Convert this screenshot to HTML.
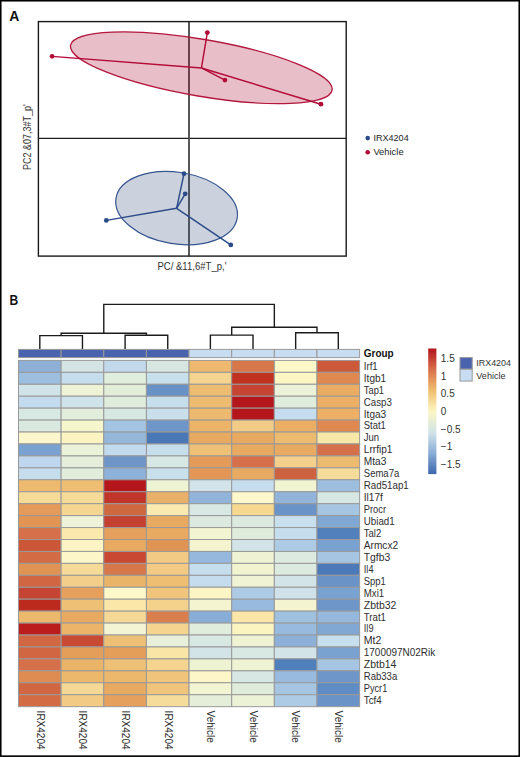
<!DOCTYPE html>
<html><head><meta charset="utf-8"><title>Figure</title>
<style>html,body{margin:0;padding:0;background:#fff;}body{width:520px;height:757px;overflow:hidden;}svg{display:block;font-family:"Liberation Sans",sans-serif;}</style>
</head><body>
<svg width="520" height="757" viewBox="0 0 520 757">
<rect x="0" y="0" width="520" height="757" fill="#fff"/>
<text x="9.3" y="20.6" font-size="14" font-weight="bold" fill="#111">A</text>
<line x1="38.4" y1="138.35" x2="346.2" y2="138.35" stroke="#1e1e1e" stroke-width="1.3"/>
<line x1="189.0" y1="21.6" x2="189.0" y2="256.1" stroke="#505050" stroke-width="1.9"/>
<ellipse cx="201.3" cy="67.75" rx="132.7" ry="28.4" transform="rotate(9.74 201.3 67.75)" fill="#a30023" fill-opacity="0.25" stroke="#b3173f" stroke-width="1.3"/>
<ellipse cx="176.6" cy="208.1" rx="61.4" ry="35.8" transform="rotate(9.35 176.6 208.1)" fill="#2f4b7b" fill-opacity="0.25" stroke="#36558f" stroke-width="1.2"/>
<line x1="201.45" y1="67.95" x2="52.1" y2="56.35" stroke="#b30a38" stroke-width="1.45"/>
<line x1="201.45" y1="67.95" x2="207.33" y2="32.6" stroke="#b30a38" stroke-width="1.45"/>
<line x1="201.45" y1="67.95" x2="224.95" y2="80.06" stroke="#b30a38" stroke-width="1.45"/>
<line x1="201.45" y1="67.95" x2="320.95" y2="104.2" stroke="#b30a38" stroke-width="1.45"/>
<circle cx="52.1" cy="56.35" r="2.4" fill="#b30a38"/>
<circle cx="207.33" cy="32.6" r="2.4" fill="#b30a38"/>
<circle cx="224.95" cy="80.06" r="2.4" fill="#b30a38"/>
<circle cx="320.95" cy="104.2" r="2.4" fill="#b30a38"/>
<line x1="176.6" y1="208.3" x2="184.0" y2="173.7" stroke="#2b4a88" stroke-width="1.45"/>
<line x1="176.6" y1="208.3" x2="185.2" y2="193.8" stroke="#2b4a88" stroke-width="1.45"/>
<line x1="176.6" y1="208.3" x2="106.3" y2="220.4" stroke="#2b4a88" stroke-width="1.45"/>
<line x1="176.6" y1="208.3" x2="230.8" y2="244.9" stroke="#2b4a88" stroke-width="1.45"/>
<circle cx="184.0" cy="173.7" r="2.4" fill="#2b4a88"/>
<circle cx="185.2" cy="193.8" r="2.4" fill="#2b4a88"/>
<circle cx="106.3" cy="220.4" r="2.4" fill="#2b4a88"/>
<circle cx="230.8" cy="244.9" r="2.4" fill="#2b4a88"/>
<rect x="38.4" y="21.6" width="307.8" height="234.5" fill="none" stroke="#1a1a1a" stroke-width="1.4"/>
<text x="157.4" y="269.7" font-size="10.7" fill="#333" textLength="69.1" lengthAdjust="spacingAndGlyphs">PC/ &amp;11,6#T_p,'</text>
<text transform="translate(30.9 170) rotate(-90)" x="0" y="0" font-size="10.7" fill="#333" textLength="65.8" lengthAdjust="spacingAndGlyphs">PC2 &amp;07,3#T_p'</text>
<circle cx="367.7" cy="138.1" r="2.3" fill="#2b4a88"/>
<circle cx="367.7" cy="152.2" r="2.3" fill="#b30a38"/>
<text x="373.4" y="140.8" font-size="9.4" fill="#262626" textLength="35.3" lengthAdjust="spacingAndGlyphs">IRX4204</text>
<text x="373.4" y="155.0" font-size="9.4" fill="#262626" textLength="30.2" lengthAdjust="spacingAndGlyphs">Vehicle</text>
<text x="9.4" y="304.6" font-size="14.5" font-weight="bold" fill="#111" textLength="8.7" lengthAdjust="spacingAndGlyphs">B</text>
<path d="M39.82 349.30 V335.60 H82.46 V349.30" fill="none" stroke="#1c1c1c" stroke-width="1.4"/>
<path d="M125.10 349.30 V335.30 H167.74 V349.30" fill="none" stroke="#1c1c1c" stroke-width="1.4"/>
<path d="M61.14 335.60 V333.30 H146.42 V335.30" fill="none" stroke="#1c1c1c" stroke-width="1.4"/>
<path d="M210.38 349.30 V335.10 H253.02 V349.30" fill="none" stroke="#1c1c1c" stroke-width="1.4"/>
<path d="M295.66 349.30 V332.80 H338.30 V349.30" fill="none" stroke="#1c1c1c" stroke-width="1.4"/>
<path d="M231.70 335.10 V327.20 H316.98 V332.80" fill="none" stroke="#1c1c1c" stroke-width="1.4"/>
<path d="M103.78 333.30 V304.40 H274.34 V327.20" fill="none" stroke="#1c1c1c" stroke-width="1.4"/>
<rect x="18.50" y="349.4" width="42.64" height="8.20" fill="#4a63ae" stroke="#999999" stroke-width="1.0"/>
<rect x="61.14" y="349.4" width="42.64" height="8.20" fill="#4a63ae" stroke="#999999" stroke-width="1.0"/>
<rect x="103.78" y="349.4" width="42.64" height="8.20" fill="#4a63ae" stroke="#999999" stroke-width="1.0"/>
<rect x="146.42" y="349.4" width="42.64" height="8.20" fill="#4a63ae" stroke="#999999" stroke-width="1.0"/>
<rect x="189.06" y="349.4" width="42.64" height="8.20" fill="#c8dcf2" stroke="#999999" stroke-width="1.0"/>
<rect x="231.70" y="349.4" width="42.64" height="8.20" fill="#c8dcf2" stroke="#999999" stroke-width="1.0"/>
<rect x="274.34" y="349.4" width="42.64" height="8.20" fill="#c8dcf2" stroke="#999999" stroke-width="1.0"/>
<rect x="316.98" y="349.4" width="42.64" height="8.20" fill="#c8dcf2" stroke="#999999" stroke-width="1.0"/>
<rect x="18.50" y="360.40" width="42.64" height="11.94" fill="#8fb0d6" stroke="#999999" stroke-width="1.0"/>
<rect x="61.14" y="360.40" width="42.64" height="11.94" fill="#d4e4e4" stroke="#999999" stroke-width="1.0"/>
<rect x="103.78" y="360.40" width="42.64" height="11.94" fill="#c2d9ec" stroke="#999999" stroke-width="1.0"/>
<rect x="146.42" y="360.40" width="42.64" height="11.94" fill="#d8e6e2" stroke="#999999" stroke-width="1.0"/>
<rect x="189.06" y="360.40" width="42.64" height="11.94" fill="#eeb86e" stroke="#999999" stroke-width="1.0"/>
<rect x="231.70" y="360.40" width="42.64" height="11.94" fill="#d8784a" stroke="#999999" stroke-width="1.0"/>
<rect x="274.34" y="360.40" width="42.64" height="11.94" fill="#fdf8c8" stroke="#999999" stroke-width="1.0"/>
<rect x="316.98" y="360.40" width="42.64" height="11.94" fill="#cc5a3a" stroke="#999999" stroke-width="1.0"/>
<rect x="18.50" y="372.34" width="42.64" height="11.94" fill="#9dbfdf" stroke="#999999" stroke-width="1.0"/>
<rect x="61.14" y="372.34" width="42.64" height="11.94" fill="#c5dded" stroke="#999999" stroke-width="1.0"/>
<rect x="103.78" y="372.34" width="42.64" height="11.94" fill="#e0eedd" stroke="#999999" stroke-width="1.0"/>
<rect x="146.42" y="372.34" width="42.64" height="11.94" fill="#c8e0ec" stroke="#999999" stroke-width="1.0"/>
<rect x="189.06" y="372.34" width="42.64" height="11.94" fill="#f5d490" stroke="#999999" stroke-width="1.0"/>
<rect x="231.70" y="372.34" width="42.64" height="11.94" fill="#c0321f" stroke="#999999" stroke-width="1.0"/>
<rect x="274.34" y="372.34" width="42.64" height="11.94" fill="#fcf6c4" stroke="#999999" stroke-width="1.0"/>
<rect x="316.98" y="372.34" width="42.64" height="11.94" fill="#df8850" stroke="#999999" stroke-width="1.0"/>
<rect x="18.50" y="384.28" width="42.64" height="11.94" fill="#cfe3e9" stroke="#999999" stroke-width="1.0"/>
<rect x="61.14" y="384.28" width="42.64" height="11.94" fill="#eef3d5" stroke="#999999" stroke-width="1.0"/>
<rect x="103.78" y="384.28" width="42.64" height="11.94" fill="#e3eed9" stroke="#999999" stroke-width="1.0"/>
<rect x="146.42" y="384.28" width="42.64" height="11.94" fill="#6892c6" stroke="#999999" stroke-width="1.0"/>
<rect x="189.06" y="384.28" width="42.64" height="11.94" fill="#eebc70" stroke="#999999" stroke-width="1.0"/>
<rect x="231.70" y="384.28" width="42.64" height="11.94" fill="#c54432" stroke="#999999" stroke-width="1.0"/>
<rect x="274.34" y="384.28" width="42.64" height="11.94" fill="#ecf2d8" stroke="#999999" stroke-width="1.0"/>
<rect x="316.98" y="384.28" width="42.64" height="11.94" fill="#e9ac62" stroke="#999999" stroke-width="1.0"/>
<rect x="18.50" y="396.22" width="42.64" height="11.94" fill="#c2dbee" stroke="#999999" stroke-width="1.0"/>
<rect x="61.14" y="396.22" width="42.64" height="11.94" fill="#cfe3ea" stroke="#999999" stroke-width="1.0"/>
<rect x="103.78" y="396.22" width="42.64" height="11.94" fill="#e0ecdc" stroke="#999999" stroke-width="1.0"/>
<rect x="146.42" y="396.22" width="42.64" height="11.94" fill="#c6ddec" stroke="#999999" stroke-width="1.0"/>
<rect x="189.06" y="396.22" width="42.64" height="11.94" fill="#eebc70" stroke="#999999" stroke-width="1.0"/>
<rect x="231.70" y="396.22" width="42.64" height="11.94" fill="#b5161c" stroke="#999999" stroke-width="1.0"/>
<rect x="274.34" y="396.22" width="42.64" height="11.94" fill="#dfeedc" stroke="#999999" stroke-width="1.0"/>
<rect x="316.98" y="396.22" width="42.64" height="11.94" fill="#ebaf65" stroke="#999999" stroke-width="1.0"/>
<rect x="18.50" y="408.16" width="42.64" height="11.94" fill="#d8e8e2" stroke="#999999" stroke-width="1.0"/>
<rect x="61.14" y="408.16" width="42.64" height="11.94" fill="#e2eedb" stroke="#999999" stroke-width="1.0"/>
<rect x="103.78" y="408.16" width="42.64" height="11.94" fill="#d7e8e2" stroke="#999999" stroke-width="1.0"/>
<rect x="146.42" y="408.16" width="42.64" height="11.94" fill="#c9e0ec" stroke="#999999" stroke-width="1.0"/>
<rect x="189.06" y="408.16" width="42.64" height="11.94" fill="#edb96e" stroke="#999999" stroke-width="1.0"/>
<rect x="231.70" y="408.16" width="42.64" height="11.94" fill="#b5161c" stroke="#999999" stroke-width="1.0"/>
<rect x="274.34" y="408.16" width="42.64" height="11.94" fill="#c3dcee" stroke="#999999" stroke-width="1.0"/>
<rect x="316.98" y="408.16" width="42.64" height="11.94" fill="#ebaf65" stroke="#999999" stroke-width="1.0"/>
<rect x="18.50" y="420.10" width="42.64" height="11.94" fill="#dae9e0" stroke="#999999" stroke-width="1.0"/>
<rect x="61.14" y="420.10" width="42.64" height="11.94" fill="#f6f6cc" stroke="#999999" stroke-width="1.0"/>
<rect x="103.78" y="420.10" width="42.64" height="11.94" fill="#a3c4e2" stroke="#999999" stroke-width="1.0"/>
<rect x="146.42" y="420.10" width="42.64" height="11.94" fill="#6e96c8" stroke="#999999" stroke-width="1.0"/>
<rect x="189.06" y="420.10" width="42.64" height="11.94" fill="#ebb468" stroke="#999999" stroke-width="1.0"/>
<rect x="231.70" y="420.10" width="42.64" height="11.94" fill="#f2cc86" stroke="#999999" stroke-width="1.0"/>
<rect x="274.34" y="420.10" width="42.64" height="11.94" fill="#eaaf64" stroke="#999999" stroke-width="1.0"/>
<rect x="316.98" y="420.10" width="42.64" height="11.94" fill="#df8850" stroke="#999999" stroke-width="1.0"/>
<rect x="18.50" y="432.04" width="42.64" height="11.94" fill="#fcf6cc" stroke="#999999" stroke-width="1.0"/>
<rect x="61.14" y="432.04" width="42.64" height="11.94" fill="#fcf4c0" stroke="#999999" stroke-width="1.0"/>
<rect x="103.78" y="432.04" width="42.64" height="11.94" fill="#95b7da" stroke="#999999" stroke-width="1.0"/>
<rect x="146.42" y="432.04" width="42.64" height="11.94" fill="#4a77b5" stroke="#999999" stroke-width="1.0"/>
<rect x="189.06" y="432.04" width="42.64" height="11.94" fill="#e8aa60" stroke="#999999" stroke-width="1.0"/>
<rect x="231.70" y="432.04" width="42.64" height="11.94" fill="#e8aa60" stroke="#999999" stroke-width="1.0"/>
<rect x="274.34" y="432.04" width="42.64" height="11.94" fill="#ecbb6f" stroke="#999999" stroke-width="1.0"/>
<rect x="316.98" y="432.04" width="42.64" height="11.94" fill="#f8e8a8" stroke="#999999" stroke-width="1.0"/>
<rect x="18.50" y="443.98" width="42.64" height="11.94" fill="#7aa2d0" stroke="#999999" stroke-width="1.0"/>
<rect x="61.14" y="443.98" width="42.64" height="11.94" fill="#eaf2d8" stroke="#999999" stroke-width="1.0"/>
<rect x="103.78" y="443.98" width="42.64" height="11.94" fill="#c2daee" stroke="#999999" stroke-width="1.0"/>
<rect x="146.42" y="443.98" width="42.64" height="11.94" fill="#c6ddec" stroke="#999999" stroke-width="1.0"/>
<rect x="189.06" y="443.98" width="42.64" height="11.94" fill="#eec176" stroke="#999999" stroke-width="1.0"/>
<rect x="231.70" y="443.98" width="42.64" height="11.94" fill="#e8aa60" stroke="#999999" stroke-width="1.0"/>
<rect x="274.34" y="443.98" width="42.64" height="11.94" fill="#e8aa60" stroke="#999999" stroke-width="1.0"/>
<rect x="316.98" y="443.98" width="42.64" height="11.94" fill="#d5704a" stroke="#999999" stroke-width="1.0"/>
<rect x="18.50" y="455.92" width="42.64" height="11.94" fill="#bed6ee" stroke="#999999" stroke-width="1.0"/>
<rect x="61.14" y="455.92" width="42.64" height="11.94" fill="#e4eedb" stroke="#999999" stroke-width="1.0"/>
<rect x="103.78" y="455.92" width="42.64" height="11.94" fill="#6d95c8" stroke="#999999" stroke-width="1.0"/>
<rect x="146.42" y="455.92" width="42.64" height="11.94" fill="#d6e7e4" stroke="#999999" stroke-width="1.0"/>
<rect x="189.06" y="455.92" width="42.64" height="11.94" fill="#e49a58" stroke="#999999" stroke-width="1.0"/>
<rect x="231.70" y="455.92" width="42.64" height="11.94" fill="#d5704a" stroke="#999999" stroke-width="1.0"/>
<rect x="274.34" y="455.92" width="42.64" height="11.94" fill="#f4d08c" stroke="#999999" stroke-width="1.0"/>
<rect x="316.98" y="455.92" width="42.64" height="11.94" fill="#ecbb6f" stroke="#999999" stroke-width="1.0"/>
<rect x="18.50" y="467.86" width="42.64" height="11.94" fill="#c5dded" stroke="#999999" stroke-width="1.0"/>
<rect x="61.14" y="467.86" width="42.64" height="11.94" fill="#e1edda" stroke="#999999" stroke-width="1.0"/>
<rect x="103.78" y="467.86" width="42.64" height="11.94" fill="#8db1d8" stroke="#999999" stroke-width="1.0"/>
<rect x="146.42" y="467.86" width="42.64" height="11.94" fill="#c8e0ec" stroke="#999999" stroke-width="1.0"/>
<rect x="189.06" y="467.86" width="42.64" height="11.94" fill="#e49656" stroke="#999999" stroke-width="1.0"/>
<rect x="231.70" y="467.86" width="42.64" height="11.94" fill="#e8aa60" stroke="#999999" stroke-width="1.0"/>
<rect x="274.34" y="467.86" width="42.64" height="11.94" fill="#cc6240" stroke="#999999" stroke-width="1.0"/>
<rect x="316.98" y="467.86" width="42.64" height="11.94" fill="#f6dc9a" stroke="#999999" stroke-width="1.0"/>
<rect x="18.50" y="479.80" width="42.64" height="11.94" fill="#edba6e" stroke="#999999" stroke-width="1.0"/>
<rect x="61.14" y="479.80" width="42.64" height="11.94" fill="#eebe72" stroke="#999999" stroke-width="1.0"/>
<rect x="103.78" y="479.80" width="42.64" height="11.94" fill="#b5161c" stroke="#999999" stroke-width="1.0"/>
<rect x="146.42" y="479.80" width="42.64" height="11.94" fill="#eef3d4" stroke="#999999" stroke-width="1.0"/>
<rect x="189.06" y="479.80" width="42.64" height="11.94" fill="#d2e4ea" stroke="#999999" stroke-width="1.0"/>
<rect x="231.70" y="479.80" width="42.64" height="11.94" fill="#c6ddee" stroke="#999999" stroke-width="1.0"/>
<rect x="274.34" y="479.80" width="42.64" height="11.94" fill="#f0f4d0" stroke="#999999" stroke-width="1.0"/>
<rect x="316.98" y="479.80" width="42.64" height="11.94" fill="#9dbedf" stroke="#999999" stroke-width="1.0"/>
<rect x="18.50" y="491.74" width="42.64" height="11.94" fill="#f6da98" stroke="#999999" stroke-width="1.0"/>
<rect x="61.14" y="491.74" width="42.64" height="11.94" fill="#f6da98" stroke="#999999" stroke-width="1.0"/>
<rect x="103.78" y="491.74" width="42.64" height="11.94" fill="#c03528" stroke="#999999" stroke-width="1.0"/>
<rect x="146.42" y="491.74" width="42.64" height="11.94" fill="#e8b068" stroke="#999999" stroke-width="1.0"/>
<rect x="189.06" y="491.74" width="42.64" height="11.94" fill="#92b4da" stroke="#999999" stroke-width="1.0"/>
<rect x="231.70" y="491.74" width="42.64" height="11.94" fill="#fdf8cc" stroke="#999999" stroke-width="1.0"/>
<rect x="274.34" y="491.74" width="42.64" height="11.94" fill="#92b4da" stroke="#999999" stroke-width="1.0"/>
<rect x="316.98" y="491.74" width="42.64" height="11.94" fill="#d6e7e4" stroke="#999999" stroke-width="1.0"/>
<rect x="18.50" y="503.68" width="42.64" height="11.94" fill="#e49a58" stroke="#999999" stroke-width="1.0"/>
<rect x="61.14" y="503.68" width="42.64" height="11.94" fill="#f5d690" stroke="#999999" stroke-width="1.0"/>
<rect x="103.78" y="503.68" width="42.64" height="11.94" fill="#d0683f" stroke="#999999" stroke-width="1.0"/>
<rect x="146.42" y="503.68" width="42.64" height="11.94" fill="#fbeab0" stroke="#999999" stroke-width="1.0"/>
<rect x="189.06" y="503.68" width="42.64" height="11.94" fill="#d8e8e2" stroke="#999999" stroke-width="1.0"/>
<rect x="231.70" y="503.68" width="42.64" height="11.94" fill="#f6d890" stroke="#999999" stroke-width="1.0"/>
<rect x="274.34" y="503.68" width="42.64" height="11.94" fill="#6a93c8" stroke="#999999" stroke-width="1.0"/>
<rect x="316.98" y="503.68" width="42.64" height="11.94" fill="#a5c5e2" stroke="#999999" stroke-width="1.0"/>
<rect x="18.50" y="515.62" width="42.64" height="11.94" fill="#e29454" stroke="#999999" stroke-width="1.0"/>
<rect x="61.14" y="515.62" width="42.64" height="11.94" fill="#eef2d8" stroke="#999999" stroke-width="1.0"/>
<rect x="103.78" y="515.62" width="42.64" height="11.94" fill="#c44030" stroke="#999999" stroke-width="1.0"/>
<rect x="146.42" y="515.62" width="42.64" height="11.94" fill="#e8aa60" stroke="#999999" stroke-width="1.0"/>
<rect x="189.06" y="515.62" width="42.64" height="11.94" fill="#dbe9df" stroke="#999999" stroke-width="1.0"/>
<rect x="231.70" y="515.62" width="42.64" height="11.94" fill="#dbe9df" stroke="#999999" stroke-width="1.0"/>
<rect x="274.34" y="515.62" width="42.64" height="11.94" fill="#c8dfee" stroke="#999999" stroke-width="1.0"/>
<rect x="316.98" y="515.62" width="42.64" height="11.94" fill="#80a8d2" stroke="#999999" stroke-width="1.0"/>
<rect x="18.50" y="527.56" width="42.64" height="11.94" fill="#d5704a" stroke="#999999" stroke-width="1.0"/>
<rect x="61.14" y="527.56" width="42.64" height="11.94" fill="#fbe8ac" stroke="#999999" stroke-width="1.0"/>
<rect x="103.78" y="527.56" width="42.64" height="11.94" fill="#e4a05c" stroke="#999999" stroke-width="1.0"/>
<rect x="146.42" y="527.56" width="42.64" height="11.94" fill="#e8aa60" stroke="#999999" stroke-width="1.0"/>
<rect x="189.06" y="527.56" width="42.64" height="11.94" fill="#f2f4d2" stroke="#999999" stroke-width="1.0"/>
<rect x="231.70" y="527.56" width="42.64" height="11.94" fill="#dfecdc" stroke="#999999" stroke-width="1.0"/>
<rect x="274.34" y="527.56" width="42.64" height="11.94" fill="#c6ddee" stroke="#999999" stroke-width="1.0"/>
<rect x="316.98" y="527.56" width="42.64" height="11.94" fill="#5180bc" stroke="#999999" stroke-width="1.0"/>
<rect x="18.50" y="539.50" width="42.64" height="11.94" fill="#cc5638" stroke="#999999" stroke-width="1.0"/>
<rect x="61.14" y="539.50" width="42.64" height="11.94" fill="#fcf4c4" stroke="#999999" stroke-width="1.0"/>
<rect x="103.78" y="539.50" width="42.64" height="11.94" fill="#e8aa60" stroke="#999999" stroke-width="1.0"/>
<rect x="146.42" y="539.50" width="42.64" height="11.94" fill="#e09454" stroke="#999999" stroke-width="1.0"/>
<rect x="189.06" y="539.50" width="42.64" height="11.94" fill="#f4f5d0" stroke="#999999" stroke-width="1.0"/>
<rect x="231.70" y="539.50" width="42.64" height="11.94" fill="#d2e4e8" stroke="#999999" stroke-width="1.0"/>
<rect x="274.34" y="539.50" width="42.64" height="11.94" fill="#aecbe6" stroke="#999999" stroke-width="1.0"/>
<rect x="316.98" y="539.50" width="42.64" height="11.94" fill="#7aa2d0" stroke="#999999" stroke-width="1.0"/>
<rect x="18.50" y="551.44" width="42.64" height="11.94" fill="#d36c45" stroke="#999999" stroke-width="1.0"/>
<rect x="61.14" y="551.44" width="42.64" height="11.94" fill="#fdf6c8" stroke="#999999" stroke-width="1.0"/>
<rect x="103.78" y="551.44" width="42.64" height="11.94" fill="#c84832" stroke="#999999" stroke-width="1.0"/>
<rect x="146.42" y="551.44" width="42.64" height="11.94" fill="#f3ca84" stroke="#999999" stroke-width="1.0"/>
<rect x="189.06" y="551.44" width="42.64" height="11.94" fill="#95b8dc" stroke="#999999" stroke-width="1.0"/>
<rect x="231.70" y="551.44" width="42.64" height="11.94" fill="#eff3d4" stroke="#999999" stroke-width="1.0"/>
<rect x="274.34" y="551.44" width="42.64" height="11.94" fill="#dceadf" stroke="#999999" stroke-width="1.0"/>
<rect x="316.98" y="551.44" width="42.64" height="11.94" fill="#a5c5e2" stroke="#999999" stroke-width="1.0"/>
<rect x="18.50" y="563.38" width="42.64" height="11.94" fill="#e09454" stroke="#999999" stroke-width="1.0"/>
<rect x="61.14" y="563.38" width="42.64" height="11.94" fill="#f6da98" stroke="#999999" stroke-width="1.0"/>
<rect x="103.78" y="563.38" width="42.64" height="11.94" fill="#d6784a" stroke="#999999" stroke-width="1.0"/>
<rect x="146.42" y="563.38" width="42.64" height="11.94" fill="#f3ca84" stroke="#999999" stroke-width="1.0"/>
<rect x="189.06" y="563.38" width="42.64" height="11.94" fill="#c6ddee" stroke="#999999" stroke-width="1.0"/>
<rect x="231.70" y="563.38" width="42.64" height="11.94" fill="#f2f4d0" stroke="#999999" stroke-width="1.0"/>
<rect x="274.34" y="563.38" width="42.64" height="11.94" fill="#dceadf" stroke="#999999" stroke-width="1.0"/>
<rect x="316.98" y="563.38" width="42.64" height="11.94" fill="#4c7ab8" stroke="#999999" stroke-width="1.0"/>
<rect x="18.50" y="575.32" width="42.64" height="11.94" fill="#d06642" stroke="#999999" stroke-width="1.0"/>
<rect x="61.14" y="575.32" width="42.64" height="11.94" fill="#f3ce8a" stroke="#999999" stroke-width="1.0"/>
<rect x="103.78" y="575.32" width="42.64" height="11.94" fill="#eab468" stroke="#999999" stroke-width="1.0"/>
<rect x="146.42" y="575.32" width="42.64" height="11.94" fill="#eebe72" stroke="#999999" stroke-width="1.0"/>
<rect x="189.06" y="575.32" width="42.64" height="11.94" fill="#c4dcee" stroke="#999999" stroke-width="1.0"/>
<rect x="231.70" y="575.32" width="42.64" height="11.94" fill="#f0f4d4" stroke="#999999" stroke-width="1.0"/>
<rect x="274.34" y="575.32" width="42.64" height="11.94" fill="#d2e4e8" stroke="#999999" stroke-width="1.0"/>
<rect x="316.98" y="575.32" width="42.64" height="11.94" fill="#6a93c8" stroke="#999999" stroke-width="1.0"/>
<rect x="18.50" y="587.26" width="42.64" height="11.94" fill="#c64434" stroke="#999999" stroke-width="1.0"/>
<rect x="61.14" y="587.26" width="42.64" height="11.94" fill="#e4a05c" stroke="#999999" stroke-width="1.0"/>
<rect x="103.78" y="587.26" width="42.64" height="11.94" fill="#fdf8ca" stroke="#999999" stroke-width="1.0"/>
<rect x="146.42" y="587.26" width="42.64" height="11.94" fill="#f0c47a" stroke="#999999" stroke-width="1.0"/>
<rect x="189.06" y="587.26" width="42.64" height="11.94" fill="#fdf6c4" stroke="#999999" stroke-width="1.0"/>
<rect x="231.70" y="587.26" width="42.64" height="11.94" fill="#aecbe6" stroke="#999999" stroke-width="1.0"/>
<rect x="274.34" y="587.26" width="42.64" height="11.94" fill="#cfe2ea" stroke="#999999" stroke-width="1.0"/>
<rect x="316.98" y="587.26" width="42.64" height="11.94" fill="#7aa2d0" stroke="#999999" stroke-width="1.0"/>
<rect x="18.50" y="599.20" width="42.64" height="11.94" fill="#bb2a1c" stroke="#999999" stroke-width="1.0"/>
<rect x="61.14" y="599.20" width="42.64" height="11.94" fill="#eec076" stroke="#999999" stroke-width="1.0"/>
<rect x="103.78" y="599.20" width="42.64" height="11.94" fill="#fbe8a8" stroke="#999999" stroke-width="1.0"/>
<rect x="146.42" y="599.20" width="42.64" height="11.94" fill="#f5d28c" stroke="#999999" stroke-width="1.0"/>
<rect x="189.06" y="599.20" width="42.64" height="11.94" fill="#f4f5d0" stroke="#999999" stroke-width="1.0"/>
<rect x="231.70" y="599.20" width="42.64" height="11.94" fill="#98bade" stroke="#999999" stroke-width="1.0"/>
<rect x="274.34" y="599.20" width="42.64" height="11.94" fill="#f4f5d0" stroke="#999999" stroke-width="1.0"/>
<rect x="316.98" y="599.20" width="42.64" height="11.94" fill="#6e96c8" stroke="#999999" stroke-width="1.0"/>
<rect x="18.50" y="611.14" width="42.64" height="11.94" fill="#ecb86c" stroke="#999999" stroke-width="1.0"/>
<rect x="61.14" y="611.14" width="42.64" height="11.94" fill="#e8aa60" stroke="#999999" stroke-width="1.0"/>
<rect x="103.78" y="611.14" width="42.64" height="11.94" fill="#f6d896" stroke="#999999" stroke-width="1.0"/>
<rect x="146.42" y="611.14" width="42.64" height="11.94" fill="#da7e4e" stroke="#999999" stroke-width="1.0"/>
<rect x="189.06" y="611.14" width="42.64" height="11.94" fill="#88aed8" stroke="#999999" stroke-width="1.0"/>
<rect x="231.70" y="611.14" width="42.64" height="11.94" fill="#fbe6a8" stroke="#999999" stroke-width="1.0"/>
<rect x="274.34" y="611.14" width="42.64" height="11.94" fill="#a0c0e0" stroke="#999999" stroke-width="1.0"/>
<rect x="316.98" y="611.14" width="42.64" height="11.94" fill="#95b8dc" stroke="#999999" stroke-width="1.0"/>
<rect x="18.50" y="623.08" width="42.64" height="11.94" fill="#bb1c1c" stroke="#999999" stroke-width="1.0"/>
<rect x="61.14" y="623.08" width="42.64" height="11.94" fill="#ecb468" stroke="#999999" stroke-width="1.0"/>
<rect x="103.78" y="623.08" width="42.64" height="11.94" fill="#f2f4d4" stroke="#999999" stroke-width="1.0"/>
<rect x="146.42" y="623.08" width="42.64" height="11.94" fill="#f5d490" stroke="#999999" stroke-width="1.0"/>
<rect x="189.06" y="623.08" width="42.64" height="11.94" fill="#e0ecdc" stroke="#999999" stroke-width="1.0"/>
<rect x="231.70" y="623.08" width="42.64" height="11.94" fill="#fcf4c0" stroke="#999999" stroke-width="1.0"/>
<rect x="274.34" y="623.08" width="42.64" height="11.94" fill="#98bade" stroke="#999999" stroke-width="1.0"/>
<rect x="316.98" y="623.08" width="42.64" height="11.94" fill="#80a8d2" stroke="#999999" stroke-width="1.0"/>
<rect x="18.50" y="635.02" width="42.64" height="11.94" fill="#d06642" stroke="#999999" stroke-width="1.0"/>
<rect x="61.14" y="635.02" width="42.64" height="11.94" fill="#c84a34" stroke="#999999" stroke-width="1.0"/>
<rect x="103.78" y="635.02" width="42.64" height="11.94" fill="#eec076" stroke="#999999" stroke-width="1.0"/>
<rect x="146.42" y="635.02" width="42.64" height="11.94" fill="#e8f0da" stroke="#999999" stroke-width="1.0"/>
<rect x="189.06" y="635.02" width="42.64" height="11.94" fill="#d8e8e2" stroke="#999999" stroke-width="1.0"/>
<rect x="231.70" y="635.02" width="42.64" height="11.94" fill="#eff3d4" stroke="#999999" stroke-width="1.0"/>
<rect x="274.34" y="635.02" width="42.64" height="11.94" fill="#8cb0d8" stroke="#999999" stroke-width="1.0"/>
<rect x="316.98" y="635.02" width="42.64" height="11.94" fill="#c8dfee" stroke="#999999" stroke-width="1.0"/>
<rect x="18.50" y="646.96" width="42.64" height="11.94" fill="#d06642" stroke="#999999" stroke-width="1.0"/>
<rect x="61.14" y="646.96" width="42.64" height="11.94" fill="#e49e5a" stroke="#999999" stroke-width="1.0"/>
<rect x="103.78" y="646.96" width="42.64" height="11.94" fill="#e49e5a" stroke="#999999" stroke-width="1.0"/>
<rect x="146.42" y="646.96" width="42.64" height="11.94" fill="#f9e6a6" stroke="#999999" stroke-width="1.0"/>
<rect x="189.06" y="646.96" width="42.64" height="11.94" fill="#d2e4e8" stroke="#999999" stroke-width="1.0"/>
<rect x="231.70" y="646.96" width="42.64" height="11.94" fill="#d8e8e2" stroke="#999999" stroke-width="1.0"/>
<rect x="274.34" y="646.96" width="42.64" height="11.94" fill="#d2e4e8" stroke="#999999" stroke-width="1.0"/>
<rect x="316.98" y="646.96" width="42.64" height="11.94" fill="#7aa2d0" stroke="#999999" stroke-width="1.0"/>
<rect x="18.50" y="658.90" width="42.64" height="11.94" fill="#d5704a" stroke="#999999" stroke-width="1.0"/>
<rect x="61.14" y="658.90" width="42.64" height="11.94" fill="#eab468" stroke="#999999" stroke-width="1.0"/>
<rect x="103.78" y="658.90" width="42.64" height="11.94" fill="#eec076" stroke="#999999" stroke-width="1.0"/>
<rect x="146.42" y="658.90" width="42.64" height="11.94" fill="#f5d490" stroke="#999999" stroke-width="1.0"/>
<rect x="189.06" y="658.90" width="42.64" height="11.94" fill="#eef3d4" stroke="#999999" stroke-width="1.0"/>
<rect x="231.70" y="658.90" width="42.64" height="11.94" fill="#eef3d4" stroke="#999999" stroke-width="1.0"/>
<rect x="274.34" y="658.90" width="42.64" height="11.94" fill="#5080bc" stroke="#999999" stroke-width="1.0"/>
<rect x="316.98" y="658.90" width="42.64" height="11.94" fill="#a5c5e2" stroke="#999999" stroke-width="1.0"/>
<rect x="18.50" y="670.84" width="42.64" height="11.94" fill="#df8c52" stroke="#999999" stroke-width="1.0"/>
<rect x="61.14" y="670.84" width="42.64" height="11.94" fill="#ecb86c" stroke="#999999" stroke-width="1.0"/>
<rect x="103.78" y="670.84" width="42.64" height="11.94" fill="#ecb86c" stroke="#999999" stroke-width="1.0"/>
<rect x="146.42" y="670.84" width="42.64" height="11.94" fill="#f0c47a" stroke="#999999" stroke-width="1.0"/>
<rect x="189.06" y="670.84" width="42.64" height="11.94" fill="#fcf6c8" stroke="#999999" stroke-width="1.0"/>
<rect x="231.70" y="670.84" width="42.64" height="11.94" fill="#d6e7e4" stroke="#999999" stroke-width="1.0"/>
<rect x="274.34" y="670.84" width="42.64" height="11.94" fill="#98bade" stroke="#999999" stroke-width="1.0"/>
<rect x="316.98" y="670.84" width="42.64" height="11.94" fill="#6e96c8" stroke="#999999" stroke-width="1.0"/>
<rect x="18.50" y="682.78" width="42.64" height="11.94" fill="#d06642" stroke="#999999" stroke-width="1.0"/>
<rect x="61.14" y="682.78" width="42.64" height="11.94" fill="#f6d896" stroke="#999999" stroke-width="1.0"/>
<rect x="103.78" y="682.78" width="42.64" height="11.94" fill="#e8aa60" stroke="#999999" stroke-width="1.0"/>
<rect x="146.42" y="682.78" width="42.64" height="11.94" fill="#f0c47a" stroke="#999999" stroke-width="1.0"/>
<rect x="189.06" y="682.78" width="42.64" height="11.94" fill="#f2f4d2" stroke="#999999" stroke-width="1.0"/>
<rect x="231.70" y="682.78" width="42.64" height="11.94" fill="#dfecdc" stroke="#999999" stroke-width="1.0"/>
<rect x="274.34" y="682.78" width="42.64" height="11.94" fill="#a5c5e2" stroke="#999999" stroke-width="1.0"/>
<rect x="316.98" y="682.78" width="42.64" height="11.94" fill="#5f8cc4" stroke="#999999" stroke-width="1.0"/>
<rect x="18.50" y="694.72" width="42.64" height="11.94" fill="#d36c45" stroke="#999999" stroke-width="1.0"/>
<rect x="61.14" y="694.72" width="42.64" height="11.94" fill="#f2ca84" stroke="#999999" stroke-width="1.0"/>
<rect x="103.78" y="694.72" width="42.64" height="11.94" fill="#e4a05c" stroke="#999999" stroke-width="1.0"/>
<rect x="146.42" y="694.72" width="42.64" height="11.94" fill="#f6dc9a" stroke="#999999" stroke-width="1.0"/>
<rect x="189.06" y="694.72" width="42.64" height="11.94" fill="#e4eed8" stroke="#999999" stroke-width="1.0"/>
<rect x="231.70" y="694.72" width="42.64" height="11.94" fill="#ecf2d6" stroke="#999999" stroke-width="1.0"/>
<rect x="274.34" y="694.72" width="42.64" height="11.94" fill="#aecbe6" stroke="#999999" stroke-width="1.0"/>
<rect x="316.98" y="694.72" width="42.64" height="11.94" fill="#6a93c8" stroke="#999999" stroke-width="1.0"/>
<text x="363.8" y="356.5" font-size="10" font-weight="bold" fill="#111" textLength="29.8" lengthAdjust="spacingAndGlyphs">Group</text>
<text transform="translate(363.8 369.77) scale(0.962 1)" x="0" y="0" font-size="10" fill="#2e2e2e">Irf1</text>
<text transform="translate(363.8 381.71) scale(1.009 1)" x="0" y="0" font-size="10" fill="#2e2e2e">Itgb1</text>
<text transform="translate(363.8 393.65) scale(0.936 1)" x="0" y="0" font-size="10" fill="#2e2e2e">Tap1</text>
<text transform="translate(363.8 405.59) scale(0.973 1)" x="0" y="0" font-size="10" fill="#2e2e2e">Casp3</text>
<text transform="translate(363.8 417.53) scale(1.009 1)" x="0" y="0" font-size="10" fill="#2e2e2e">Itga3</text>
<text transform="translate(363.8 429.47) scale(0.946 1)" x="0" y="0" font-size="10" fill="#2e2e2e">Stat1</text>
<text transform="translate(363.8 441.41) scale(0.955 1)" x="0" y="0" font-size="10" fill="#2e2e2e">Jun</text>
<text transform="translate(363.8 453.35) scale(1.01 1)" x="0" y="0" font-size="10" fill="#2e2e2e">Lrrfip1</text>
<text transform="translate(363.8 465.29) scale(1.018 1)" x="0" y="0" font-size="10" fill="#2e2e2e">Mta3</text>
<text transform="translate(363.8 477.23) scale(0.952 1)" x="0" y="0" font-size="10" fill="#2e2e2e">Sema7a</text>
<text transform="translate(363.8 489.17) scale(0.975 1)" x="0" y="0" font-size="10" fill="#2e2e2e">Rad51ap1</text>
<text transform="translate(363.8 501.11) scale(1.013 1)" x="0" y="0" font-size="10" fill="#2e2e2e">Il17f</text>
<text transform="translate(363.8 513.05) scale(0.93 1)" x="0" y="0" font-size="10" fill="#2e2e2e">Procr</text>
<text transform="translate(363.8 524.99) scale(0.974 1)" x="0" y="0" font-size="10" fill="#2e2e2e">Ubiad1</text>
<text transform="translate(363.8 536.93) scale(0.955 1)" x="0" y="0" font-size="10" fill="#2e2e2e">Tal2</text>
<text transform="translate(363.8 548.87) scale(1.014 1)" x="0" y="0" font-size="10" fill="#2e2e2e">Armcx2</text>
<text transform="translate(363.8 560.81) scale(1.034 1)" x="0" y="0" font-size="10" fill="#2e2e2e">Tgfb3</text>
<text transform="translate(363.8 572.75) scale(0.92 1)" x="0" y="0" font-size="10" fill="#2e2e2e">Il4</text>
<text transform="translate(363.8 584.69) scale(0.946 1)" x="0" y="0" font-size="10" fill="#2e2e2e">Spp1</text>
<text transform="translate(363.8 596.63) scale(0.964 1)" x="0" y="0" font-size="10" fill="#2e2e2e">Mxi1</text>
<text transform="translate(363.8 608.57) scale(1.047 1)" x="0" y="0" font-size="10" fill="#2e2e2e">Zbtb32</text>
<text transform="translate(363.8 620.51) scale(0.964 1)" x="0" y="0" font-size="10" fill="#2e2e2e">Trat1</text>
<text transform="translate(363.8 632.45) scale(0.92 1)" x="0" y="0" font-size="10" fill="#2e2e2e">Il9</text>
<text transform="translate(363.8 644.39) scale(1.06 1)" x="0" y="0" font-size="10" fill="#2e2e2e">Mt2</text>
<text transform="translate(363.8 656.33) scale(0.996 1)" x="0" y="0" font-size="10" fill="#2e2e2e">1700097N02Rik</text>
<text transform="translate(363.8 668.27) scale(1.047 1)" x="0" y="0" font-size="10" fill="#2e2e2e">Zbtb14</text>
<text transform="translate(363.8 680.21) scale(0.955 1)" x="0" y="0" font-size="10" fill="#2e2e2e">Rab33a</text>
<text transform="translate(363.8 692.15) scale(0.92 1)" x="0" y="0" font-size="10" fill="#2e2e2e">Pycr1</text>
<text transform="translate(363.8 704.09) scale(0.972 1)" x="0" y="0" font-size="10" fill="#2e2e2e">Tcf4</text>
<text transform="translate(36.62 710.6) rotate(90)" x="0" y="0" font-size="10" fill="#2a2a2a">IRX4204</text>
<text transform="translate(79.26 710.6) rotate(90)" x="0" y="0" font-size="10" fill="#2a2a2a">IRX4204</text>
<text transform="translate(121.90 710.6) rotate(90)" x="0" y="0" font-size="10" fill="#2a2a2a">IRX4204</text>
<text transform="translate(164.54 710.6) rotate(90)" x="0" y="0" font-size="10" fill="#2a2a2a">IRX4204</text>
<text transform="translate(207.18 710.6) rotate(90)" x="0" y="0" font-size="10" fill="#2a2a2a">Vehicle</text>
<text transform="translate(249.82 710.6) rotate(90)" x="0" y="0" font-size="10" fill="#2a2a2a">Vehicle</text>
<text transform="translate(292.46 710.6) rotate(90)" x="0" y="0" font-size="10" fill="#2a2a2a">Vehicle</text>
<text transform="translate(335.10 710.6) rotate(90)" x="0" y="0" font-size="10" fill="#2a2a2a">Vehicle</text>
<defs><linearGradient id="cb" x1="0" y1="0" x2="0" y2="1"><stop offset="0" stop-color="#b3141c"/><stop offset="0.167" stop-color="#d8704a"/><stop offset="0.333" stop-color="#efbe6e"/><stop offset="0.5" stop-color="#fcf6c4"/><stop offset="0.667" stop-color="#d2e4e8"/><stop offset="0.833" stop-color="#8aaed8"/><stop offset="1" stop-color="#3c66ac"/></linearGradient></defs>
<rect x="428.2" y="348.5" width="8.2" height="125.6" fill="url(#cb)"/>
<text x="440.8" y="362.10" font-size="10" fill="#333">1.5</text>
<text x="440.8" y="379.72" font-size="10" fill="#333">1</text>
<text x="440.8" y="397.34" font-size="10" fill="#333">0.5</text>
<text x="440.8" y="414.96" font-size="10" fill="#333">0</text>
<text x="440.8" y="432.58" font-size="10" fill="#333">−0.5</text>
<text x="440.8" y="450.20" font-size="10" fill="#333">−1</text>
<text x="440.8" y="467.82" font-size="10" fill="#333">−1.5</text>
<rect x="460" y="357.6" width="12.2" height="11.6" fill="#4a63ae" stroke="#999" stroke-width="1"/>
<rect x="460" y="369.2" width="12.2" height="11.9" fill="#c8dcf2" stroke="#999" stroke-width="1"/>
<text x="476.3" y="365.9" font-size="9.5" fill="#333" textLength="34.7" lengthAdjust="spacingAndGlyphs">IRX4204</text>
<text x="476.3" y="378.5" font-size="9.5" fill="#333" textLength="29.4" lengthAdjust="spacingAndGlyphs">Vehicle</text>
<rect x="0.75" y="0.75" width="518.5" height="755.4" fill="none" stroke="#000" stroke-width="1.6"/>
</svg>
</body></html>
